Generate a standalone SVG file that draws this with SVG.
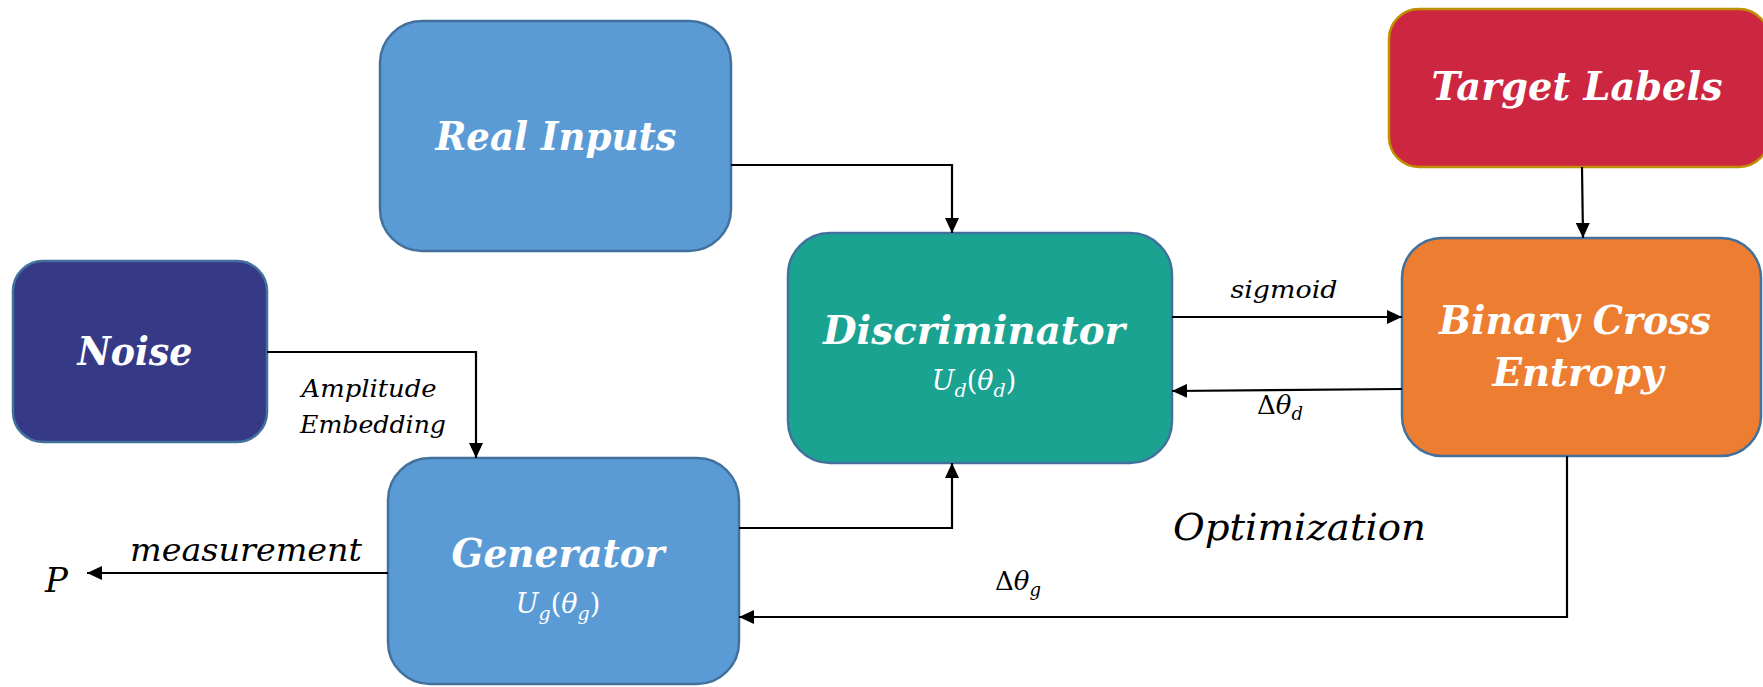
<svg xmlns="http://www.w3.org/2000/svg" width="1763" height="687" viewBox="0 0 1763 687">
<style>
.box{stroke-width:2.5}
.title{font-family:"DejaVu Serif","Liberation Serif",serif;font-weight:bold;font-style:italic;fill:#fff;text-anchor:middle}
.sub{font-family:"DejaVu Serif","Liberation Serif",serif;font-style:italic;fill:#fff;text-anchor:middle;font-size:27px}
.lbl{font-family:"DejaVu Serif","Liberation Serif",serif;font-style:italic;fill:#000}
.up{font-style:normal}
.conn{fill:none;stroke:#000;stroke-width:2.2}
</style>
<defs>
<marker id="ah" markerUnits="userSpaceOnUse" markerWidth="16" markerHeight="14" refX="15" refY="7" orient="auto">
<path d="M0,0 L15,7 L0,14 z" fill="#000"/>
</marker>
</defs>
<rect width="1763" height="687" fill="#fff"/>

<g id="real-inputs">
<rect class="box" x="380" y="21" width="351" height="230" rx="42" fill="#5B9BD5" stroke="#41719C"/>
<text class="title" x="556" y="150" font-size="39" textLength="241" lengthAdjust="spacingAndGlyphs">Real Inputs</text>
</g>

<g id="noise">
<rect class="box" x="13" y="261" width="254" height="181" rx="30" fill="#363A86" stroke="#41719C"/>
<text class="title" x="135" y="365" font-size="39" textLength="115" lengthAdjust="spacingAndGlyphs">Noise</text>
</g>

<g id="generator">
<rect class="box" x="388" y="458" width="351" height="226" rx="42" fill="#5B9BD5" stroke="#41719C"/>
<text class="title" x="558" y="567" font-size="39" textLength="213" lengthAdjust="spacingAndGlyphs">Generator</text>
<text class="sub" x="558" y="613">U<tspan font-size="19" dy="7">g</tspan><tspan dy="-7" class="up">(</tspan>θ<tspan font-size="19" dy="7">g</tspan><tspan dy="-7" class="up">)</tspan></text>
</g>

<g id="discriminator">
<rect class="box" x="788" y="233" width="384" height="230" rx="42" fill="#1BA391" stroke="#41719C"/>
<text class="title" x="974" y="344" font-size="39" textLength="302" lengthAdjust="spacingAndGlyphs">Discriminator</text>
<text class="sub" x="974" y="390">U<tspan font-size="19" dy="7">d</tspan><tspan dy="-7" class="up">(</tspan>θ<tspan font-size="19" dy="7">d</tspan><tspan dy="-7" class="up">)</tspan></text>
</g>

<g id="binary-cross-entropy">
<rect class="box" x="1402" y="238" width="359" height="218" rx="40" fill="#ED7D31" stroke="#41719C"/>
<text class="title" x="1575" y="334" font-size="39" textLength="272" lengthAdjust="spacingAndGlyphs">Binary Cross</text>
<text class="title" x="1578" y="386" font-size="39" textLength="171" lengthAdjust="spacingAndGlyphs">Entropy</text>
</g>

<g id="target-labels">
<rect class="box" x="1389" y="9" width="380" height="158" rx="30" fill="#CC2641" stroke="#BF9000"/>
<text class="title" x="1577" y="100" font-size="39" textLength="291" lengthAdjust="spacingAndGlyphs">Target Labels</text>
</g>

<g id="connectors">
<path class="conn" d="M731,165 H952 V233" marker-end="url(#ah)"/>
<path class="conn" d="M267,352 H476 V458" marker-end="url(#ah)"/>
<path class="conn" d="M739,528 H952 V463" marker-end="url(#ah)"/>
<path class="conn" d="M1172,317 H1402" marker-end="url(#ah)"/>
<path class="conn" d="M1402,389 L1172,391" marker-end="url(#ah)"/>
<path class="conn" d="M1582,167 L1583,238" marker-end="url(#ah)"/>
<path class="conn" d="M1567,456 V617 H739" marker-end="url(#ah)"/>
<path class="conn" d="M388,573 H87" marker-end="url(#ah)"/>
</g>

<g id="labels">
<text class="lbl" x="369" y="397" font-size="25" text-anchor="middle" textLength="135" lengthAdjust="spacingAndGlyphs">Amplitude</text>
<text class="lbl" x="373" y="433" font-size="25" text-anchor="middle" textLength="146" lengthAdjust="spacingAndGlyphs">Embedding</text>
<text class="lbl" x="1284" y="298" font-size="25" text-anchor="middle" textLength="107" lengthAdjust="spacingAndGlyphs">sigmoid</text>
<text class="lbl" x="1280" y="414" font-size="26" text-anchor="middle"><tspan class="up">Δ</tspan>θ<tspan font-size="18" dy="6">d</tspan></text>
<text class="lbl" x="1173" y="540" font-size="37" textLength="253" lengthAdjust="spacingAndGlyphs">Optimization</text>
<text class="lbl" x="1018" y="590" font-size="26" text-anchor="middle"><tspan class="up">Δ</tspan>θ<tspan font-size="18" dy="6">g</tspan></text>
<text class="lbl" x="130" y="561" font-size="31" textLength="232" lengthAdjust="spacingAndGlyphs">measurement</text>
<text class="lbl" x="45" y="592" font-size="34">P</text>
</g>
</svg>
